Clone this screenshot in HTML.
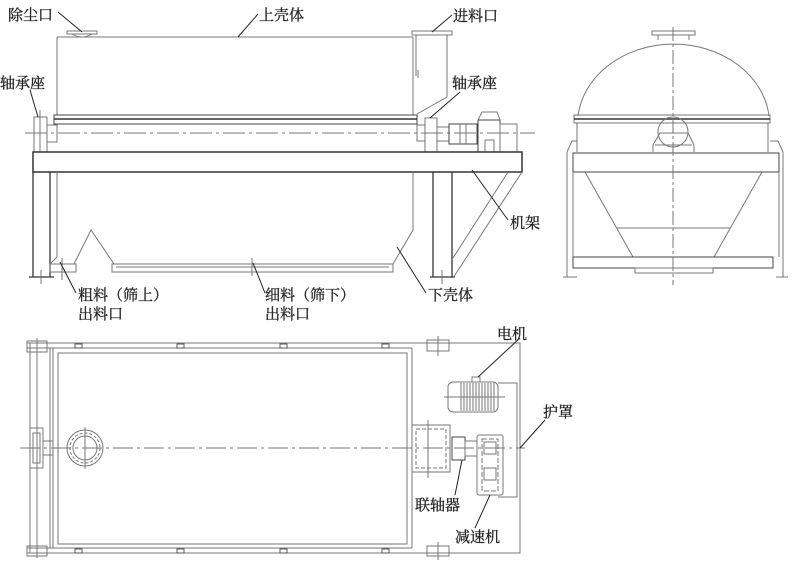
<!DOCTYPE html>
<html><head><meta charset="utf-8"><style>
html,body{margin:0;padding:0;background:#fff;width:800px;height:571px;overflow:hidden}
svg{display:block}
text{font-family:"Liberation Serif","Noto Serif CJK SC","Noto Sans CJK SC",serif;font-size:15px;fill:#222;stroke:#222;stroke-width:0.3}
</style></head><body>
<svg width="800" height="571" viewBox="0 0 800 571" xmlns="http://www.w3.org/2000/svg">
<g fill="none" stroke="#777" stroke-width="1">
<path d="M57 37 H413 M57 37 V115 M413 37 V115"/>
<rect x="67" y="31" width="30" height="3"/><path d="M72 34 Q82 40 92 34"/>
<rect x="412" y="31" width="40" height="4"/>
<path d="M416 35 V76 M418 70 V78 M447 35 V97 L417 114"/>
<rect x="54" y="115" width="363" height="9" stroke="#444"/>
<path d="M54 119 H417" stroke="#333" stroke-width="1.5"/>
<path d="M25 133 H535" stroke-dasharray="22 4 3 4"/>
<rect x="34" y="117" width="13" height="35"/><path d="M40 110 V152"/>
<rect x="47" y="125" width="10" height="17"/>
<rect x="425" y="118" width="12" height="34"/><rect x="417" y="125" width="8" height="16"/>
<rect x="437" y="127" width="12" height="14"/>
<rect x="449" y="124" width="28" height="20" stroke="#444"/><path d="M460 124 V144 M466 124 V144"/>
<rect x="478" y="120" width="22" height="32" stroke="#444"/><path d="M482 112 H497 L500 120 M482 112 L478 120 M485 140 H494 V152 M485 140 V152"/>
<rect x="500" y="124" width="17" height="28"/>
<rect x="33" y="152" width="489" height="20" stroke="#333" stroke-width="1.5"/>
<path d="M33 172 V277 M50 172 V277 M29 277 H54" stroke="#333" stroke-width="1.3"/>
<path d="M41 270 V284"/>
<path d="M433 172 V277 M452 172 V277 M430 277 H455" stroke="#333" stroke-width="1.3"/>
<path d="M442 270 V284"/>
<path d="M522 172 L453 278 M508 172 L453 258"/>
<path d="M57 172 V257 L50 264 M74 264 L91 230 L114 264 M413 172 V230 L393 264"/>
<rect x="112" y="264" width="281" height="8"/><path d="M116 267 H389"/>
<rect x="50" y="264" width="26" height="8"/>
<path d="M252 258 V276 M62 258 V280"/>
<rect x="652" y="31" width="43" height="4"/><path d="M658 35 V40 M689 35 V40"/>
<path d="M578 116 A96 80 0 0 1 769 116"/>
<rect x="574" y="115" width="196" height="8"/><path d="M574 119 H770" stroke="#333" stroke-width="1.5"/>
<path d="M577 123 V152 M768 123 V152"/>
<circle cx="673" cy="132" r="15"/>
<path d="M653 152 V145 L660 133 H688 L694 145 V152 M655 145 H692"/>
<path d="M567 152 L572 141 H577 M783 152 L778 141 H770"/>
<rect x="573" y="153" width="206" height="19" stroke="#444"/>
<path d="M567 152 V277 M573 172 V257 M779 172 V257 M783 152 V277 M563 277 H577 M776 277 H788"/>
<path d="M585 172 L633 257 M762 172 L714 257 M617 228 H730"/>
<rect x="573" y="257" width="200" height="11" stroke="#444"/>
<rect x="635" y="268" width="78" height="5"/>
<path d="M673 27 V285" stroke-dasharray="14 3 3 3"/>
<path d="M27 343 H520 V553 H27 M27 348 H412 M27 548 H412"/>
<path d="M30 343 V553 M37 343 V553 M50 348 V548 M53 348 V548"/>
<rect x="58" y="353" width="349" height="191"/>
<path d="M412 348 V548"/>
<rect x="27" y="341" width="20" height="11"/><rect x="27" y="546" width="20" height="10"/>
<path d="M37 338 V356 M37 542 V558"/>
<rect x="427" y="340" width="22" height="11"/><rect x="427" y="546" width="22" height="10"/>
<path d="M438 336 V356 M438 542 V560"/>
<g stroke="#555"><rect x="75" y="344" width="7" height="4"/><rect x="177" y="344" width="7" height="4"/><rect x="280" y="344" width="7" height="4"/><rect x="382" y="344" width="7" height="4"/>
<rect x="75" y="549" width="7" height="4"/><rect x="177" y="549" width="7" height="4"/><rect x="280" y="549" width="7" height="4"/><rect x="382" y="549" width="7" height="4"/></g>
<rect x="30" y="428" width="13" height="40"/><rect x="33" y="433" width="7" height="30"/>
<rect x="43" y="441" width="10" height="14"/>
<circle cx="85" cy="448" r="18"/><circle cx="85" cy="448" r="15" stroke-dasharray="3 2"/><circle cx="85" cy="448" r="12"/>
<path d="M85 427 V469"/>
<path d="M20 448 H525" stroke-dasharray="20 4 3 4"/>
<rect x="412" y="425" width="38" height="47"/><rect x="416" y="429" width="30" height="39" stroke-dasharray="4 2"/>
<path d="M428 420 V478"/>
<rect x="452" y="437" width="13" height="23" stroke="#444"/><rect x="465" y="441" width="12" height="15"/>
<rect x="477" y="435" width="26" height="60" rx="2"/><rect x="482" y="439" width="16" height="52" stroke-dasharray="5 2"/>
<rect x="484" y="442" width="12" height="12"/><rect x="484" y="468" width="12" height="12"/>
<path d="M498 383 H517 V497 H498"/>
<rect x="448" y="382" width="50" height="30" rx="5"/><rect x="472" y="377" width="8" height="5"/>
<g stroke="#555" stroke-width="0.8"><path d="M461 383 V411 M464 383 V411 M467 383 V411 M470 383 V411 M473 383 V411 M476 383 V411 M479 383 V411 M482 383 V411 M485 383 V411 M488 383 V411 M491 383 V411 M494 383 V411"/></g>
<path d="M444 397 H505"/>
</g>
<g fill="none" stroke="#222" stroke-width="1">
<path d="M58 12 L82 32"/><path d="M258 14 L238 37"/><path d="M452 15 L432 32"/>
<path d="M30 90 L38 117"/><path d="M460 92 L430 118"/>
<path d="M472 170 L508 220"/>
<path d="M76 293 L60 262"/><path d="M265 293 L253 263"/><path d="M426 293 L397 247"/>
<path d="M520 338 L478 377"/><path d="M545 420 L520 448"/>
<path d="M455 495 L462 460"/><path d="M475 528 L490 495"/>
</g>
<text x="8" y="20">除尘口</text>
<text x="259" y="20">上壳体</text>
<text x="453" y="21">进料口</text>
<text x="0" y="88">轴承座</text>
<text x="452" y="88">轴承座</text>
<text x="510" y="228">机架</text>
<text x="78" y="300">粗料（筛上）</text>
<text x="78" y="319">出料口</text>
<text x="265" y="300">细料（筛下）</text>
<text x="265" y="319">出料口</text>
<text x="428" y="300">下壳体</text>
<text x="497" y="339">电机</text>
<text x="543" y="417">护罩</text>
<text x="415" y="510">联轴器</text>
<text x="455" y="542">减速机</text>
</svg>
</body></html>
